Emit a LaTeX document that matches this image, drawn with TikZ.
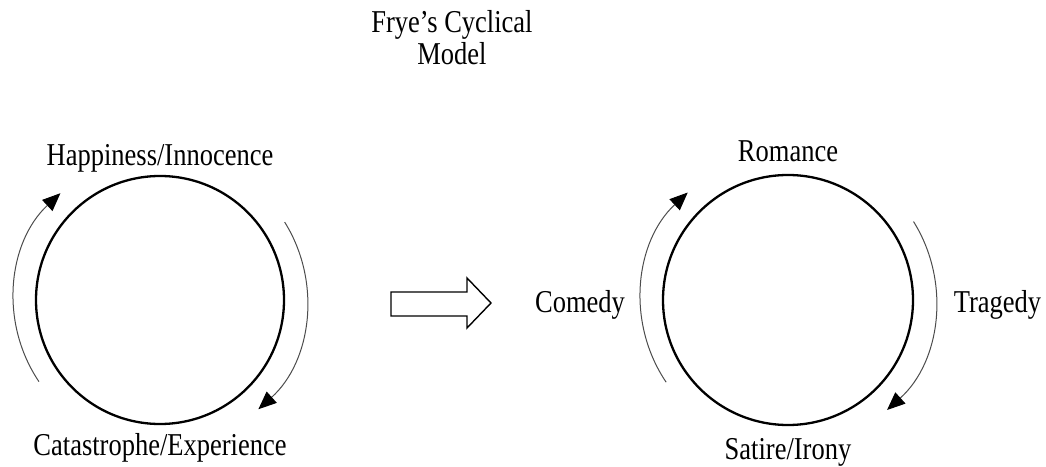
\documentclass[tikz,border=0pt]{standalone}
\usepackage{fontspec}
\usepackage{graphicx}
\setmainfont{Liberation Serif}
\usetikzlibrary{arrows.meta}
\newcommand{\vtxt}[1]{\scalebox{1}[1.2]{#1}}
\tikzset{
  lbl/.style={font=\fontsize{26.5}{32}\selectfont, inner sep=0pt, anchor=base},
  ring/.style={circle, draw=black, line width=2.3pt, inner sep=0pt},
  cyc/.style={draw=black!70, line width=1pt, -{Triangle[length=18pt,width=15pt,color=black]}},
  blockarrow/.style={draw=black, line width=1.4pt, fill=white, line join=miter}
}
\begin{document}
\begin{tikzpicture}[x=1pt,y=1pt]
\useasboundingbox (0,0) rectangle (1046,466);
% title
\node[lbl] (t1) at (452,433) {\vtxt{Frye’s Cyclical}};
\node[lbl] (t2) at (452,401) {\vtxt{Model}};
% left circle
\node[ring, minimum size=248pt] (L) at (160,166) {};
\node[lbl] (hap) at (160,300) {\vtxt{Happiness/Innocence}};
\node[lbl] (cat) at (160,11) {\vtxt{Catastrophe/Experience}};
\draw[cyc] ([shift={(214:146)}]L.center) arc[start angle=214, end angle=133, radius=146];
\draw[cyc] ([shift={(32:147)}]L.center) arc[start angle=32, end angle=-48, radius=147];
% block arrow
\draw[blockarrow] (391,174) -- (467,174) -- (467,188) -- (491,163) -- (467,138) -- (467,150) -- (391,150) -- cycle;
% right circle
\node[ring, minimum size=250pt] (R) at (788,166) {};
\node[lbl] (rom) at (788,304) {\vtxt{Romance}};
\node[lbl] (sat) at (788,7) {\vtxt{Satire/Irony}};
\node[lbl] (com) at (580,153) {\vtxt{Comedy}};
\node[lbl] (tra) at (997.5,153) {\vtxt{Tragedy}};
\draw[cyc] ([shift={(214:147)}]R.center) arc[start angle=214, end angle=133, radius=147];
\draw[cyc] ([shift={(32:148)}]R.center) arc[start angle=32, end angle=-48, radius=148];
\end{tikzpicture}
\end{document}
